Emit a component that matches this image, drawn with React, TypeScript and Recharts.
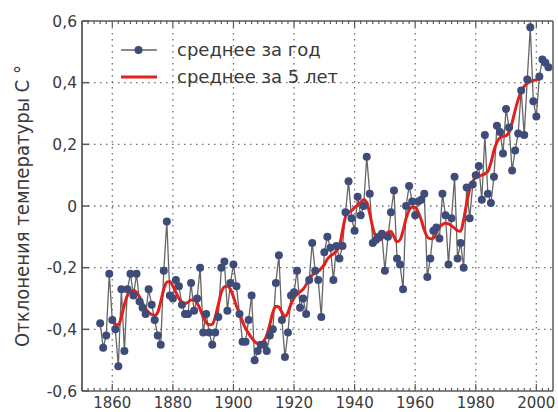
import React from 'react';
import { LineChart, Line, XAxis, YAxis, CartesianGrid, Legend } from 'recharts';

const FONT = '"DejaVu Sans", sans-serif';
const TEXT = '#3a3a3a';
const AXIS = '#5a5a5a';
const DOT = '#3f4b78';
const GRAY_LINE = '#666666';
const RED = '#e0211c';

const years = [
  1856, 1857, 1858, 1859, 1860, 1861, 1862, 1863, 1864, 1865,
  1866, 1867, 1868, 1869, 1870, 1871, 1872, 1873, 1874, 1875,
  1876, 1877, 1878, 1879, 1880, 1881, 1882, 1883, 1884, 1885,
  1886, 1887, 1888, 1889, 1890, 1891, 1892, 1893, 1894, 1895,
  1896, 1897, 1898, 1899, 1900, 1901, 1902, 1903, 1904, 1905,
  1906, 1907, 1908, 1909, 1910, 1911, 1912, 1913, 1914, 1915,
  1916, 1917, 1918, 1919, 1920, 1921, 1922, 1923, 1924, 1925,
  1926, 1927, 1928, 1929, 1930, 1931, 1932, 1933, 1934, 1935,
  1936, 1937, 1938, 1939, 1940, 1941, 1942, 1943, 1944, 1945,
  1946, 1947, 1948, 1949, 1950, 1951, 1952, 1953, 1954, 1955,
  1956, 1957, 1958, 1959, 1960, 1961, 1962, 1963, 1964, 1965,
  1966, 1967, 1968, 1969, 1970, 1971, 1972, 1973, 1974, 1975,
  1976, 1977, 1978, 1979, 1980, 1981, 1982, 1983, 1984, 1985,
  1986, 1987, 1988, 1989, 1990, 1991, 1992, 1993, 1994, 1995,
  1996, 1997, 1998, 1999, 2000, 2001, 2002, 2003, 2004,
];

// annual mean anomaly, 1856–2004
const annualMean = [
  -0.38, -0.46, -0.42, -0.22, -0.37, -0.40, -0.52, -0.27, -0.47, -0.27,
  -0.22, -0.29, -0.22, -0.31, -0.33, -0.35, -0.27, -0.32, -0.37, -0.42,
  -0.45, -0.21, -0.05, -0.29, -0.30, -0.24, -0.26, -0.32, -0.35, -0.35,
  -0.25, -0.34, -0.30, -0.20, -0.41, -0.35, -0.41, -0.45, -0.41, -0.36,
  -0.20, -0.18, -0.34, -0.25, -0.19, -0.26, -0.35, -0.44, -0.44, -0.37,
  -0.29, -0.50, -0.47, -0.45, -0.45, -0.47, -0.42, -0.40, -0.25, -0.16,
  -0.37, -0.49, -0.41, -0.29, -0.28, -0.21, -0.33, -0.30, -0.35, -0.24,
  -0.12, -0.21, -0.24, -0.36, -0.15, -0.10, -0.135, -0.24, -0.13, -0.17,
  -0.13, -0.02, 0.08, -0.04, -0.08, 0.03, -0.03, 0.00, 0.16, 0.04,
  -0.12, -0.11, -0.10, -0.09, -0.21, -0.10, -0.02, 0.05, -0.17, -0.19,
  -0.27, 0.00, 0.065, 0.015, -0.03, 0.015, 0.02, 0.04, -0.23, -0.17,
  -0.08, -0.07, -0.105, 0.04, -0.03, -0.19, -0.04, 0.095, -0.17, -0.12,
  -0.20, 0.06, -0.04, 0.07, 0.10, 0.13, 0.02, 0.23, 0.04, 0.01,
  0.095, 0.26, 0.24, 0.17, 0.315, 0.255, 0.115, 0.18, 0.235, 0.375,
  0.23, 0.41, 0.58, 0.34, 0.29, 0.42, 0.475, 0.465, 0.45,
];

// 5-year mean, 1860–2001
const fiveYearFirst = 1860;
const fiveYearMean = [
  -0.37, -0.383, -0.386, -0.36, -0.32, -0.29, -0.277, -0.273, -0.28, -0.295,
  -0.315, -0.333, -0.345, -0.352, -0.355, -0.345, -0.31, -0.27, -0.247, -0.245,
  -0.26, -0.28, -0.30, -0.312, -0.316, -0.312, -0.305, -0.305, -0.315, -0.335,
  -0.36, -0.378, -0.385, -0.384, -0.36, -0.32, -0.28, -0.262, -0.26, -0.27,
  -0.295, -0.325, -0.348, -0.375, -0.397, -0.413, -0.428, -0.44, -0.446, -0.446,
  -0.438, -0.42, -0.385, -0.345, -0.325, -0.328, -0.345, -0.358, -0.345, -0.318,
  -0.298, -0.286, -0.278, -0.27, -0.255, -0.235, -0.224, -0.218, -0.212, -0.202,
  -0.19, -0.172, -0.162, -0.155, -0.145, -0.13, -0.08, -0.035, -0.022, -0.015,
  -0.005, 0.003, 0.012, 0.02, 0.012, -0.025, -0.07, -0.1, -0.11, -0.106,
  -0.095, -0.085, -0.083, -0.1, -0.116, -0.11, -0.08, -0.04, -0.013, -0.004,
  -0.004, -0.02, -0.045, -0.078, -0.1, -0.106, -0.104, -0.085, -0.068, -0.06,
  -0.056, -0.058, -0.064, -0.072, -0.08, -0.082, -0.045, 0.01, 0.055, 0.08,
  0.092, 0.097, 0.10, 0.105, 0.112, 0.14, 0.18, 0.207, 0.222, 0.226,
  0.228, 0.24, 0.27, 0.31, 0.345, 0.37, 0.388, 0.398, 0.403, 0.407,
  0.41, 0.412,
];

const majorYears = [1860, 1880, 1900, 1920, 1940, 1960, 1980, 2000];
const minorStep = 2;
const xDomain: [number, number] = [1850, 2005.5];
const xTicks: number[] = [];
for (let y = xDomain[0]; y <= 2004; y += minorStep) xTicks.push(y);

const yTicks = [-0.6, -0.4, -0.2, 0, 0.2, 0.4, 0.6];
const yTickLabels = ['-0,6', '-0,4', '-0,2', '0', '0,2', '0,4', '0,6'];
const yGrid = [-0.4, -0.2, 0, 0.2, 0.4];

const seriesNames = ['среднее за год', 'среднее за 5 лет'];
const yTitle = 'Отклонения температуры С °';

const data = years.map((year, i) => {
  const j = year - fiveYearFirst;
  return {
    year,
    annual: annualMean[i],
    mean5: j >= 0 && j < fiveYearMean.length ? fiveYearMean[j] : null,
  };
});

const BottomTick = (props: any) => {
  const { x, y, payload } = props;
  const v = payload.value;
  const major = majorYears.includes(v);
  return (
    <g>
      <line x1={x} x2={x} y1={y} y2={y - (major ? 7 : 3)} stroke={AXIS} strokeWidth={1.2} />
      {major && (
        <text x={x} y={y + 16.5} textAnchor="middle" fontSize={15} fill={TEXT} fontFamily={FONT}>
          {v}
        </text>
      )}
    </g>
  );
};

const TopTick = (props: any) => {
  const { x, y, payload } = props;
  const major = majorYears.includes(payload.value);
  return <line x1={x} x2={x} y1={y} y2={y + (major ? 6 : 3)} stroke={AXIS} strokeWidth={1.2} />;
};

const LeftTick = (props: any) => {
  const { x, y, payload } = props;
  const idx = yTicks.findIndex((t) => Math.abs(t - payload.value) < 1e-9);
  const label = idx >= 0 ? yTickLabels[idx] : String(payload.value);
  return (
    <g>
      <line x1={x} x2={x + 7} y1={y} y2={y} stroke={AXIS} strokeWidth={1.5} />
      <text x={x - 5} y={y} dy="0.36em" textAnchor="end" fontSize={15.5} fill={TEXT} fontFamily={FONT}>
        {label}
      </text>
    </g>
  );
};

const LegendContent = () => (
  <div style={{ fontFamily: FONT, fontSize: 18, color: TEXT, lineHeight: '27px' }}>
    <div style={{ display: 'flex', alignItems: 'center', height: 27 }}>
      <svg width={36} height={12} style={{ display: 'block' }}>
        <line x1={0} x2={36} y1={6} y2={6} stroke={GRAY_LINE} strokeWidth={1.5} />
        <circle cx={17.5} cy={6} r={4} fill={DOT} />
      </svg>
      <span style={{ marginLeft: 20, whiteSpace: 'nowrap' }}>{seriesNames[0]}</span>
    </div>
    <div style={{ display: 'flex', alignItems: 'center', height: 27 }}>
      <svg width={36} height={12} style={{ display: 'block' }}>
        <line x1={0} x2={36} y1={6} y2={6} stroke={RED} strokeWidth={3} />
      </svg>
      <span style={{ marginLeft: 20, whiteSpace: 'nowrap' }}>{seriesNames[1]}</span>
    </div>
  </div>
);

export default function App() {
  return (
    <div style={{ position: 'absolute', left: 0, top: 0, width: 558, height: 412, background: '#fff' }}>
      <LineChart width={558} height={412} data={data} margin={{ top: 0, right: 0, bottom: 0, left: 0 }}>
        <CartesianGrid
          verticalValues={majorYears}
          horizontalValues={yGrid}
          stroke="#6f6f6f"
          strokeWidth={1.3}
          strokeDasharray="1.5 4.5"
        />
        <XAxis
          dataKey="year"
          type="number"
          domain={xDomain}
          ticks={xTicks}
          interval={0}
          height={21}
          tickSize={0}
          tickMargin={0}
          tickLine={false}
          tick={<BottomTick />}
          axisLine={{ stroke: AXIS, strokeWidth: 1.5 }}
          allowDataOverflow
        />
        <XAxis
          xAxisId="top"
          orientation="top"
          dataKey="year"
          type="number"
          domain={xDomain}
          ticks={xTicks}
          interval={0}
          height={21}
          tickSize={0}
          tickMargin={0}
          tickLine={false}
          tick={<TopTick />}
          axisLine={{ stroke: AXIS, strokeWidth: 1.5 }}
          allowDataOverflow
        />
        <YAxis
          type="number"
          domain={[-0.6, 0.6]}
          ticks={yTicks}
          interval={0}
          width={82}
          tickSize={0}
          tickMargin={0}
          tickLine={false}
          tick={<LeftTick />}
          axisLine={{ stroke: AXIS, strokeWidth: 1.8 }}
          allowDataOverflow
        />
        <YAxis
          yAxisId="right"
          orientation="right"
          type="number"
          domain={[-0.6, 0.6]}
          width={5}
          tick={false}
          tickLine={false}
          axisLine={{ stroke: AXIS, strokeWidth: 1.5 }}
        />
        <Legend
          layout="vertical"
          align="center"
          verticalAlign="middle"
          content={<LegendContent />}
          wrapperStyle={{ left: 121, top: 36, width: 260, height: 54 }}
        />
        <Line
          dataKey="annual"
          name={seriesNames[0]}
          type="linear"
          stroke={GRAY_LINE}
          strokeWidth={1.3}
          dot={{ r: 4, fill: DOT, stroke: 'none', strokeWidth: 0 }}
          activeDot={false}
          isAnimationActive={false}
        />
        <Line
          dataKey="mean5"
          name={seriesNames[1]}
          type="monotone"
          stroke={RED}
          strokeWidth={3}
          dot={false}
          activeDot={false}
          isAnimationActive={false}
        />
      </LineChart>
      <svg
        width={558}
        height={412}
        style={{ position: 'absolute', left: 0, top: 0, pointerEvents: 'none' }}
      >
        <text
          transform="translate(29,206) rotate(-90)"
          x={0}
          y={0}
          textAnchor="middle"
          fontSize={19}
          fill={TEXT}
          fontFamily={FONT}
          textLength={282}
          lengthAdjust="spacingAndGlyphs"
        >
          {yTitle}
        </text>
      </svg>
    </div>
  );
}
